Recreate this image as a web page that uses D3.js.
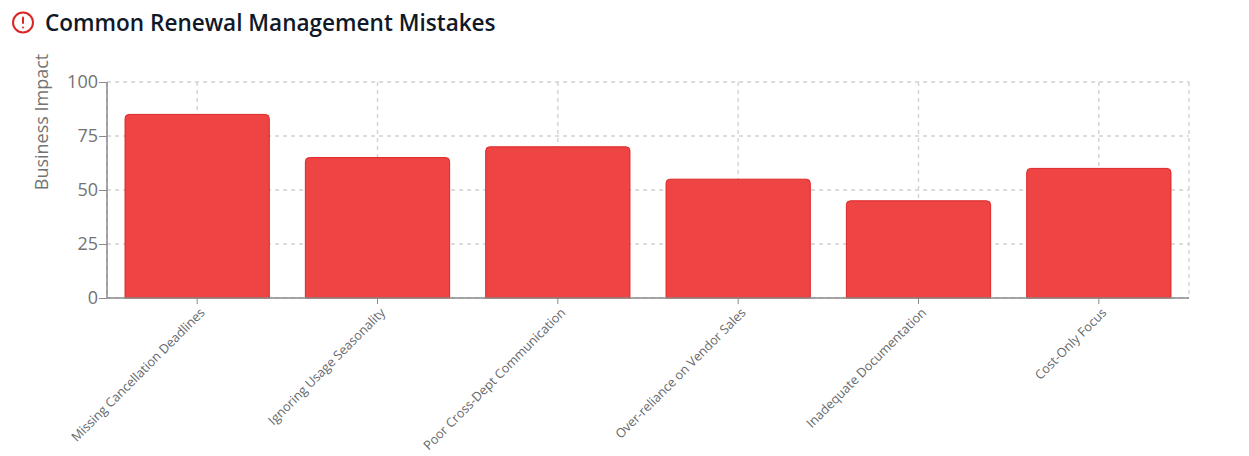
<!DOCTYPE html>
<html><head><meta charset="utf-8">
<script src="https://cdn.jsdelivr.net/npm/d3@7/dist/d3.min.js"></script>
<style>
html,body{margin:0;padding:0;background:#fff;overflow:hidden}
svg{display:block}
text{font-family:"Open Sans","Noto Sans",sans-serif}
</style></head><body><svg id="c" width="1249" height="456"></svg>
<script>
const categories=["Missing Cancellation Deadlines","Ignoring Usage Seasonality","Poor Cross-Dept Communication","Over-reliance on Vendor Sales","Inadequate Documentation","Cost-Only Focus"];
const impactValues=[85,65,70,55,45,60];
const yTicks=[0,25,50,75,100];
const titleText="Common Renewal Management Mistakes";
const yLabel="Business Impact";

const svg=d3.select("#c");
const L=107,R=1189,T=82,B=298;
const x=d3.scaleBand().domain(categories).range([L,R]).paddingInner(0).paddingOuter(0);
const y=d3.scaleLinear().domain([0,100]).range([B,T]);
const bw=x.bandwidth(), barW=bw*0.8;
const gridC="#d2d2d2";

// grid
const grid=svg.append("g").attr("fill","none").attr("stroke",gridC).attr("stroke-width",1.4).attr("stroke-dasharray","4 4");
grid.selectAll(".h").data(yTicks).join("line").attr("x1",L).attr("x2",R).attr("y1",d=>y(d)).attr("y2",d=>y(d));
grid.selectAll(".v").data(categories).join("line").attr("x1",d=>x(d)+bw/2).attr("x2",d=>x(d)+bw/2).attr("y1",T).attr("y2",B);
grid.append("line").attr("x1",L).attr("x2",L).attr("y1",T).attr("y2",B);
grid.append("line").attr("x1",R).attr("x2",R).attr("y1",T).attr("y2",B);

// bars
const r=4;
svg.append("g").selectAll("path").data(categories).join("path")
 .attr("fill","#ef4444").attr("stroke","#dc2626").attr("stroke-width",1)
 .attr("d",(d,i)=>{const x0=x(d)+bw*0.1,x1=x0+barW,t=y(impactValues[i]);
  return `M${x0},${B}V${t+r}A${r},${r} 0 0 1 ${x0+r},${t}H${x1-r}A${r},${r} 0 0 1 ${x1},${t+r}V${B}Z`;});

// axes
const axisC="#8a8a8a";
const gy=svg.append("g").attr("transform",`translate(${L},0)`).call(d3.axisLeft(y).tickValues(yTicks).tickSize(8).tickPadding(1));
gy.select(".domain").attr("stroke",axisC).attr("stroke-width",1.5).attr("d",`M0,${T}V${B}`);
gy.selectAll("line").attr("stroke",axisC);
gy.selectAll("text").attr("fill","#737373").attr("font-size",18).style("font-family",'"Open Sans",sans-serif');

const gx=svg.append("g").attr("transform",`translate(0,${B})`).call(d3.axisBottom(x).tickSize(6).tickSizeOuter(0));
gx.select(".domain").attr("stroke",axisC).attr("stroke-width",1.5).attr("d",`M${L},0H${R}`);
gx.selectAll("line").attr("stroke",axisC);
gx.selectAll("text").attr("fill","#64676b").attr("font-size",12.7).style("font-family",'"Open Sans",sans-serif')
 .attr("text-anchor","end").attr("dy",null).attr("y",0)
 .attr("transform","translate(6,13) rotate(-45)").attr("dominant-baseline","middle");

// y label
svg.append("text").attr("transform",`translate(48,122) rotate(-90)`).attr("text-anchor","middle")
 .attr("fill","#737373").attr("font-size",18).text(yLabel);

// title icon
const ic=svg.append("g").attr("fill","none").attr("stroke","#dc2626").attr("stroke-width",2).attr("stroke-linecap","round");
ic.append("circle").attr("cx",23).attr("cy",22.5).attr("r",10);
ic.append("line").attr("x1",23).attr("x2",23).attr("y1",17.5).attr("y2",23);
ic.append("line").attr("x1",23).attr("x2",23.01).attr("y1",27.5).attr("y2",27.5);

svg.append("text").attr("x",45).attr("y",30.5).attr("fill","#111827").attr("font-size",22.55).attr("font-weight",600).text(titleText);
</script></body></html>
